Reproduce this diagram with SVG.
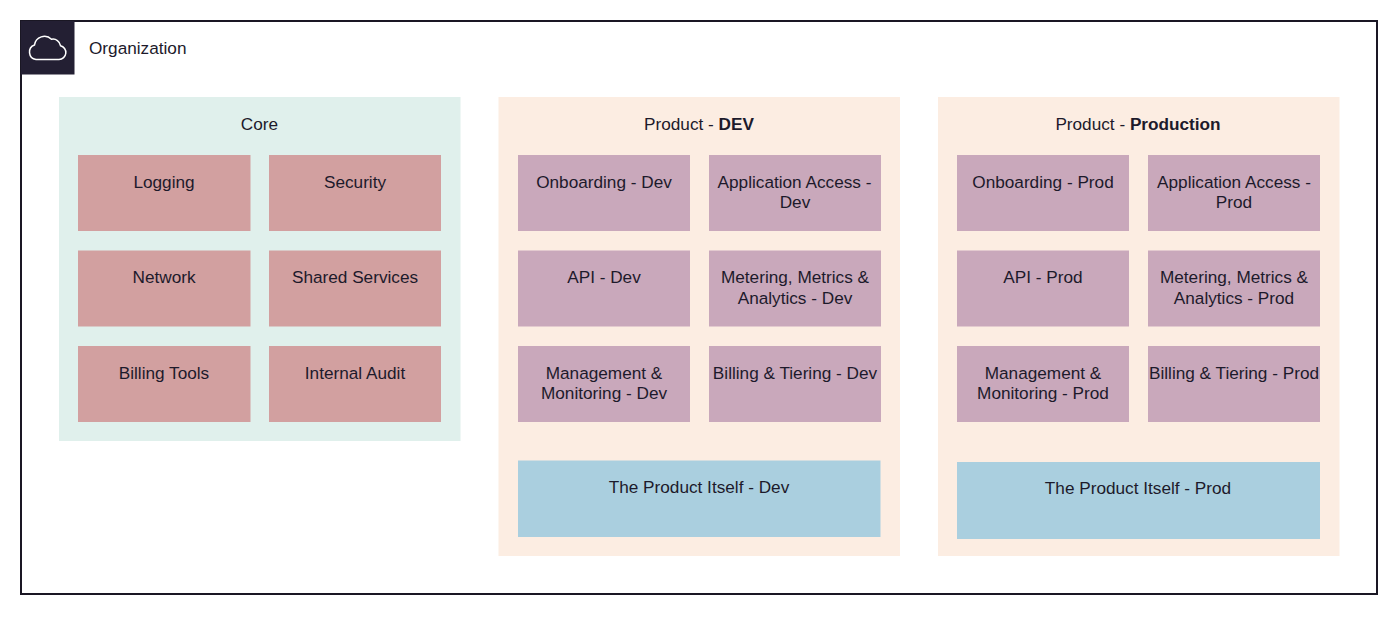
<svg xmlns="http://www.w3.org/2000/svg" width="1400" height="619" viewBox="0 0 1400 619">
<style>
text{font-family:"Liberation Sans",Arial,sans-serif;font-size:17.2px;fill:#1d1a2b;text-anchor:middle}
.g{fill:#e0f0ec}.o{fill:#fcede2}.r{fill:#d2a0a0}.p{fill:#c9a8bb}.b{fill:#aacfdf}
</style>
<rect width="1400" height="619" fill="#fff"/>
<g id="organization">
<rect x="21" y="21" width="1356" height="573" fill="#fff" stroke="#1a1724" stroke-width="2"/>
<rect x="21" y="21" width="53.500" height="53.500" fill="#231f33"/>
<path d="M36 59.500h23a7 7 0 0 0 1.500-13.800a7.500 7.500 0 0 0-9-6.400a10 10 0 0 0-17 5.700a7.500 7.500 0 0 0 1.500 14.500z" fill="none" stroke="#fff" stroke-width="1.500"/>
<text x="89" y="53.500" style="text-anchor:start">Organization</text>
</g>
<g id="core"><rect class="g" x="59" y="97" width="401.500" height="344"/><text x="259.500" y="130">Core</text></g>
<g id="product-dev"><rect class="o" x="498.500" y="97" width="401.500" height="459"/><text x="699" y="130">Product - <tspan font-weight="bold">DEV</tspan></text></g>
<g id="product-prod"><rect class="o" x="938" y="97" width="401.500" height="459"/><text x="1138" y="130">Product - <tspan font-weight="bold">Production</tspan></text></g>

<g id="logging"><rect class="r" x="78" y="155" width="172.500" height="76"/><text x="164" y="187.500">Logging</text></g>
<g id="security"><rect class="r" x="269" y="155" width="172" height="76"/><text x="355" y="187.500">Security</text></g>
<g id="network"><rect class="r" x="78" y="250.500" width="172.500" height="76"/><text x="164" y="283">Network</text></g>
<g id="shared-services"><rect class="r" x="269" y="250.500" width="172" height="76"/><text x="355" y="283">Shared Services</text></g>
<g id="billing-tools"><rect class="r" x="78" y="346" width="172.500" height="76"/><text x="164" y="378.500">Billing Tools</text></g>
<g id="internal-audit"><rect class="r" x="269" y="346" width="172" height="76"/><text x="355" y="378.500">Internal Audit</text></g>

<g id="onboarding-dev"><rect class="p" x="518" y="155" width="172" height="76"/><text x="604" y="187.500">Onboarding - Dev</text></g>
<g id="access-dev"><rect class="p" x="709" y="155" width="172" height="76"/><text x="794.500" y="187.500">Application Access -</text><text x="795" y="208">Dev</text></g>
<g id="api-dev"><rect class="p" x="518" y="250.500" width="172" height="76"/><text x="604" y="283">API - Dev</text></g>
<g id="metering-dev"><rect class="p" x="709" y="250.500" width="172" height="76"/><text x="795" y="283">Metering, Metrics &amp;</text><text x="795" y="303.500">Analytics - Dev</text></g>
<g id="management-dev"><rect class="p" x="518" y="346" width="172" height="76"/><text x="604" y="378.500">Management &amp;</text><text x="604" y="399">Monitoring - Dev</text></g>
<g id="billing-dev"><rect class="p" x="709" y="346" width="172" height="76"/><text x="795" y="378.500">Billing &amp; Tiering - Dev</text></g>
<g id="product-itself-dev"><rect class="b" x="518" y="460.500" width="362.500" height="76.500"/><text x="699" y="492.500">The Product Itself - Dev</text></g>

<g id="onboarding-prod"><rect class="p" x="957" y="155" width="172" height="76"/><text x="1043" y="187.500">Onboarding - Prod</text></g>
<g id="access-prod"><rect class="p" x="1148" y="155" width="172" height="76"/><text x="1234" y="187.500">Application Access -</text><text x="1234" y="208">Prod</text></g>
<g id="api-prod"><rect class="p" x="957" y="250.500" width="172" height="76"/><text x="1043" y="283">API - Prod</text></g>
<g id="metering-prod"><rect class="p" x="1148" y="250.500" width="172" height="76"/><text x="1234" y="283">Metering, Metrics &amp;</text><text x="1234" y="303.500">Analytics - Prod</text></g>
<g id="management-prod"><rect class="p" x="957" y="346" width="172" height="76"/><text x="1043" y="378.500">Management &amp;</text><text x="1043" y="399">Monitoring - Prod</text></g>
<g id="billing-prod"><rect class="p" x="1148" y="346" width="172" height="76"/><text x="1234" y="378.500">Billing &amp; Tiering - Prod</text></g>
<g id="product-itself-prod"><rect class="b" x="957" y="462" width="363" height="77"/><text x="1138" y="494">The Product Itself - Prod</text></g>
<g id="connectors"/>
</svg>
